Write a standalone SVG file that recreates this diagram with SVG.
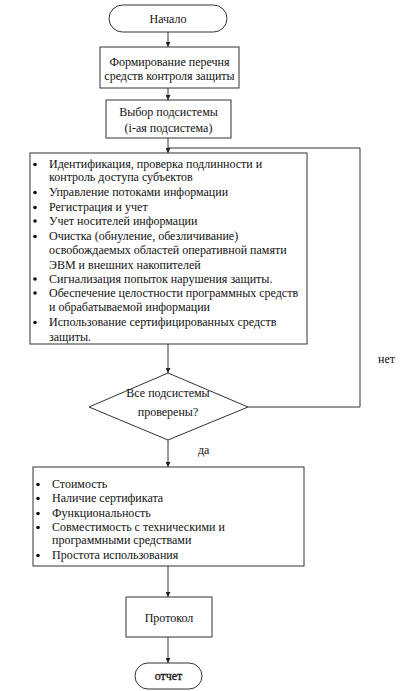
<svg xmlns="http://www.w3.org/2000/svg" width="409" height="691" viewBox="0 0 409 691">
<style>
.s{fill:#fff;stroke:#333;stroke-width:1}
.t{font-family:"Liberation Serif","Times New Roman",serif;font-size:12px;fill:#111}
.c{text-anchor:middle}
.l{fill:none;stroke:#333;stroke-width:1}
.b{fill:#111}
</style>
<defs>
<marker id="a" viewBox="0 0 10 10" refX="10" refY="5" markerWidth="5" markerHeight="5" orient="auto" markerUnits="userSpaceOnUse">
<path d="M0,0L10,5L0,10z" fill="#222"/>
</marker>
</defs>
<rect width="409" height="691" fill="#fff"/>
<g id="connectors">
<line class="l" x1="168" y1="32" x2="168" y2="47" marker-end="url(#a)"/>
<line class="l" x1="168" y1="88" x2="168" y2="100" marker-end="url(#a)"/>
<line class="l" x1="168" y1="138" x2="168" y2="153" marker-end="url(#a)"/>
<line class="l" x1="168" y1="344" x2="168" y2="373" marker-end="url(#a)"/>
<polyline class="l" points="248,407 360,407 360,148 168,148"/>
<line class="l" x1="168" y1="440" x2="168" y2="467" marker-end="url(#a)"/>
<line class="l" x1="168" y1="566" x2="168" y2="597" marker-end="url(#a)"/>
<line class="l" x1="168" y1="637" x2="168" y2="663" marker-end="url(#a)"/>
<text class="t" x="378" y="363">нет</text>
<text class="t" x="198" y="454">да</text>
</g>
<g id="start">
<rect class="s" x="109" y="5" width="118" height="27" rx="13.5"/>
<text class="t c" x="168" y="22.5">Начало</text>
</g>
<g id="form">
<rect class="s" x="100" y="47" width="139" height="41"/>
<text class="t c" x="169.5" y="66">Формирование перечня</text>
<text class="t c" x="169.5" y="80">средств контроля защиты</text>
</g>
<g id="select">
<rect class="s" x="106" y="100" width="125" height="38"/>
<text class="t c" x="168.5" y="116">Выбор подсистемы</text>
<text class="t c" x="168.5" y="132">(i-ая подсистема)</text>
</g>
<g id="list">
<rect class="s" x="30" y="153" width="277" height="191"/>
<g class="b">
<circle cx="35" cy="164.5" r="1.8"/>
<circle cx="35" cy="192.5" r="1.8"/>
<circle cx="35" cy="207.5" r="1.8"/>
<circle cx="35" cy="221" r="1.8"/>
<circle cx="35" cy="236.5" r="1.8"/>
<circle cx="35" cy="279" r="1.8"/>
<circle cx="35" cy="293" r="1.8"/>
<circle cx="35" cy="322.5" r="1.8"/>
</g>
<g class="t">
<text x="49" y="168">Идентификация, проверка подлинности и</text>
<text x="49" y="181">контроль доступа субъектов</text>
<text x="49" y="196">Управление потоками информации</text>
<text x="49" y="211">Регистрация и учет</text>
<text x="49" y="224.5">Учет носителей информации</text>
<text x="49" y="240">Очистка (обнуление, обезличивание)</text>
<text x="49" y="254">освобождаемых областей оперативной памяти</text>
<text x="49" y="268.5">ЭВМ и внешних накопителей</text>
<text x="49" y="282.5">Сигнализация попыток нарушения защиты.</text>
<text x="49" y="296.5">Обеспечение целостности программных средств</text>
<text x="49" y="311">и обрабатываемой информации</text>
<text x="49" y="326">Использование сертифицированных средств</text>
<text x="49" y="341">защиты.</text>
</g>
</g>
<g id="check">
<polygon class="s" points="168,373 248,407 168,440 89,407"/>
<text class="t c" x="168" y="397">Все подсистемы</text>
<text class="t c" x="168" y="416">проверены?</text>
</g>
<g id="criteria">
<rect class="s" x="33" y="467" width="271" height="99"/>
<g class="b">
<circle cx="38" cy="484.5" r="1.8"/>
<circle cx="38" cy="498.5" r="1.8"/>
<circle cx="38" cy="513.5" r="1.8"/>
<circle cx="38" cy="527.5" r="1.8"/>
<circle cx="38" cy="555.5" r="1.8"/>
</g>
<g class="t">
<text x="52" y="488">Стоимость</text>
<text x="52" y="502">Наличие сертификата</text>
<text x="52" y="517">Функциональность</text>
<text x="52" y="531">Совместимость с техническими и</text>
<text x="52" y="544">программными средствами</text>
<text x="52" y="559">Простота использования</text>
</g>
</g>
<g id="protocol">
<rect class="s" x="126" y="597" width="86" height="40"/>
<text class="t c" x="169" y="622">Протокол</text>
</g>
<g id="end">
<rect class="s" x="135" y="663" width="67" height="26" rx="13"/>
<text class="t c" x="168.5" y="680" stroke="#111" stroke-width="0.3">отчет</text>
</g>
</svg>
